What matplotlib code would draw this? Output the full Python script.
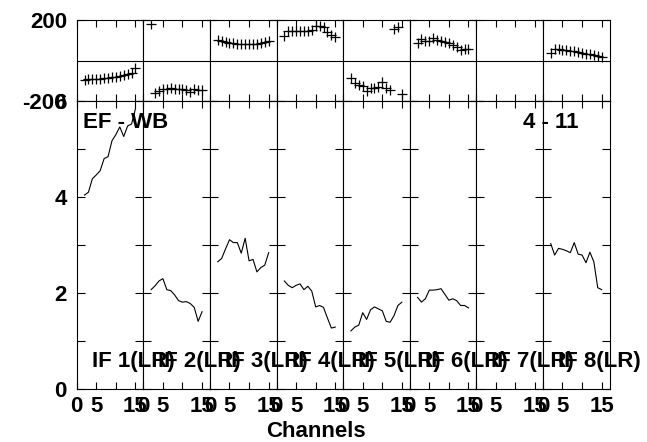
import matplotlib.pyplot as plt

plt.rcParams['font.family'] = ['Liberation Sans', 'DejaVu Sans']
plt.rcParams['font.weight'] = 'bold'

# channels plotted in every IF panel
channels = [2, 3, 4, 5, 6, 7, 8, 9, 10, 11, 12, 13, 14, 15]

if_labels = ['IF 1(LR)', 'IF 2(LR)', 'IF 3(LR)', 'IF 4(LR)',
             'IF 5(LR)', 'IF 6(LR)', 'IF 7(LR)', 'IF 8(LR)']

# amplitude (lower panels)
amp_if1 = [4.04, 4.10, 4.38, 4.46, 4.55, 4.80, 4.84, 5.17, 5.30, 5.46, 5.26, 5.48, 5.52, 5.84]
amp_if2 = [2.07, 2.15, 2.25, 2.30, 2.07, 2.05, 1.96, 1.84, 1.81, 1.82, 1.78, 1.70, 1.41, 1.61]
amp_if3 = [2.65, 2.72, 2.92, 3.11, 3.05, 3.05, 2.83, 3.14, 2.67, 2.70, 2.44, 2.53, 2.58, 2.84]
amp_if4 = [2.25, 2.16, 2.11, 2.16, 2.19, 2.07, 2.14, 2.04, 1.71, 1.74, 1.70, 1.48, 1.27, 1.29]
amp_if5 = [1.21, 1.29, 1.33, 1.59, 1.45, 1.65, 1.71, 1.67, 1.63, 1.41, 1.39, 1.53, 1.74, 1.81]
amp_if6 = [1.91, 1.81, 1.88, 2.06, 2.06, 2.07, 2.09, 1.97, 1.85, 1.88, 1.84, 1.74, 1.74, 1.69]
amp_if7 = []
amp_if8 = [3.03, 2.79, 2.93, 2.91, 2.88, 2.84, 3.05, 2.81, 2.79, 2.63, 2.85, 2.65, 2.11, 2.07]

# phase in degrees (upper panels)
ph_if1 = [-96, -93, -93, -91, -90, -88, -86, -82, -80, -77, -73, -67, -60, -36]
ph_if2 = [179, -162, -150, -143, -142, -138, -141, -142, -139, -146, -154, -143, -146, -146]
ph_if3 = [101, 96, 90, 88, 85, 83, 81, 83, 83, 83, 81, 85, 90, 98]
ph_if4 = [122, 146, 148, 148, 148, 148, 146, 151, 168, 170, 167, 143, 127, 117]
ph_if5 = [-88, -113, -121, -126, -149, -137, -137, -132, -105, -137, -146, 156, 164, -167]
ph_if6 = [88, 108, 95, 98, 110, 101, 98, 93, 85, 77, 68, 52, 55, 55]
ph_if7 = []
ph_if8 = [36, 55, 55, 54, 52, 48, 46, 40, 36, 32, 30, 25, 20, 16]

amps = [amp_if1, amp_if2, amp_if3, amp_if4, amp_if5, amp_if6, amp_if7, amp_if8]
phases = [ph_if1, ph_if2, ph_if3, ph_if4, ph_if5, ph_if6, ph_if7, ph_if8]

W, H = 647, 442
fig = plt.figure(figsize=(W / 100, H / 100), dpi=100)
fs = 16
lw = 0.8

for i in range(8):
    left = (76.7 + i * 66.6) / W
    ax_p = fig.add_axes([left, 1 - 101 / H, 66.6 / W, 81 / H])
    ax_a = fig.add_axes([left, 1 - 389 / H, 66.6 / W, 288 / H])

    for ax in (ax_p, ax_a):
        ax.set_xlim(0, 17)
        for sp in ax.spines.values():
            sp.set_linewidth(lw)
        ax.tick_params(direction='in', top=True, bottom=True, left=True, right=True,
                       width=lw, labelsize=fs)
        ax.set_xticks([0, 5, 10, 15])
        ax.tick_params(axis='x', length=5, pad=5)
        ax.tick_params(axis='y', pad=7)

    # phase panel
    ax_p.set_ylim(-200, 200)
    ax_p.set_yticks([-200, 200])
    ax_p.set_yticklabels(['-200', '200'])
    ax_p.tick_params(axis='y', length=5)
    ax_p.axhline(0, color='black', lw=lw)
    ax_p.tick_params(labelbottom=False)
    if phases[i]:
        ax_p.plot(channels, phases[i], '+', color='black', markersize=7, mew=0.9)

    # amplitude panel
    ax_a.set_ylim(0, 6)
    ax_a.set_yticks([0, 2, 4, 6])
    ax_a.set_yticks([1, 3, 5], minor=True)
    ax_a.tick_params(axis='y', which='both', length=6, width=lw, direction='in',
                     left=True, right=True)
    ax_a.set_xticklabels(['0', '5', '', '15'])
    if amps[i]:
        ax_a.plot(channels, amps[i], color='black', lw=lw)

    if i > 0:
        ax_p.tick_params(labelleft=False)
        ax_a.tick_params(labelleft=False)

    fig.text((76.7 + i * 66.6 + 15) / W, 1 - 367 / H, if_labels[i],
             fontsize=fs, fontweight='bold', va='baseline', ha='left')

fig.text(83 / W, 1 - 128 / H, 'EF - WB', fontsize=fs, fontweight='bold', va='baseline')
fig.text(523 / W, 1 - 128 / H, '4 - 11', fontsize=fs, fontweight='bold', va='baseline')
fig.text(315.5 / W, 1 - 437 / H, 'Channels', fontsize=fs, fontweight='bold',
         ha='center', va='baseline')

fig.savefig('out.png', dpi=100)
